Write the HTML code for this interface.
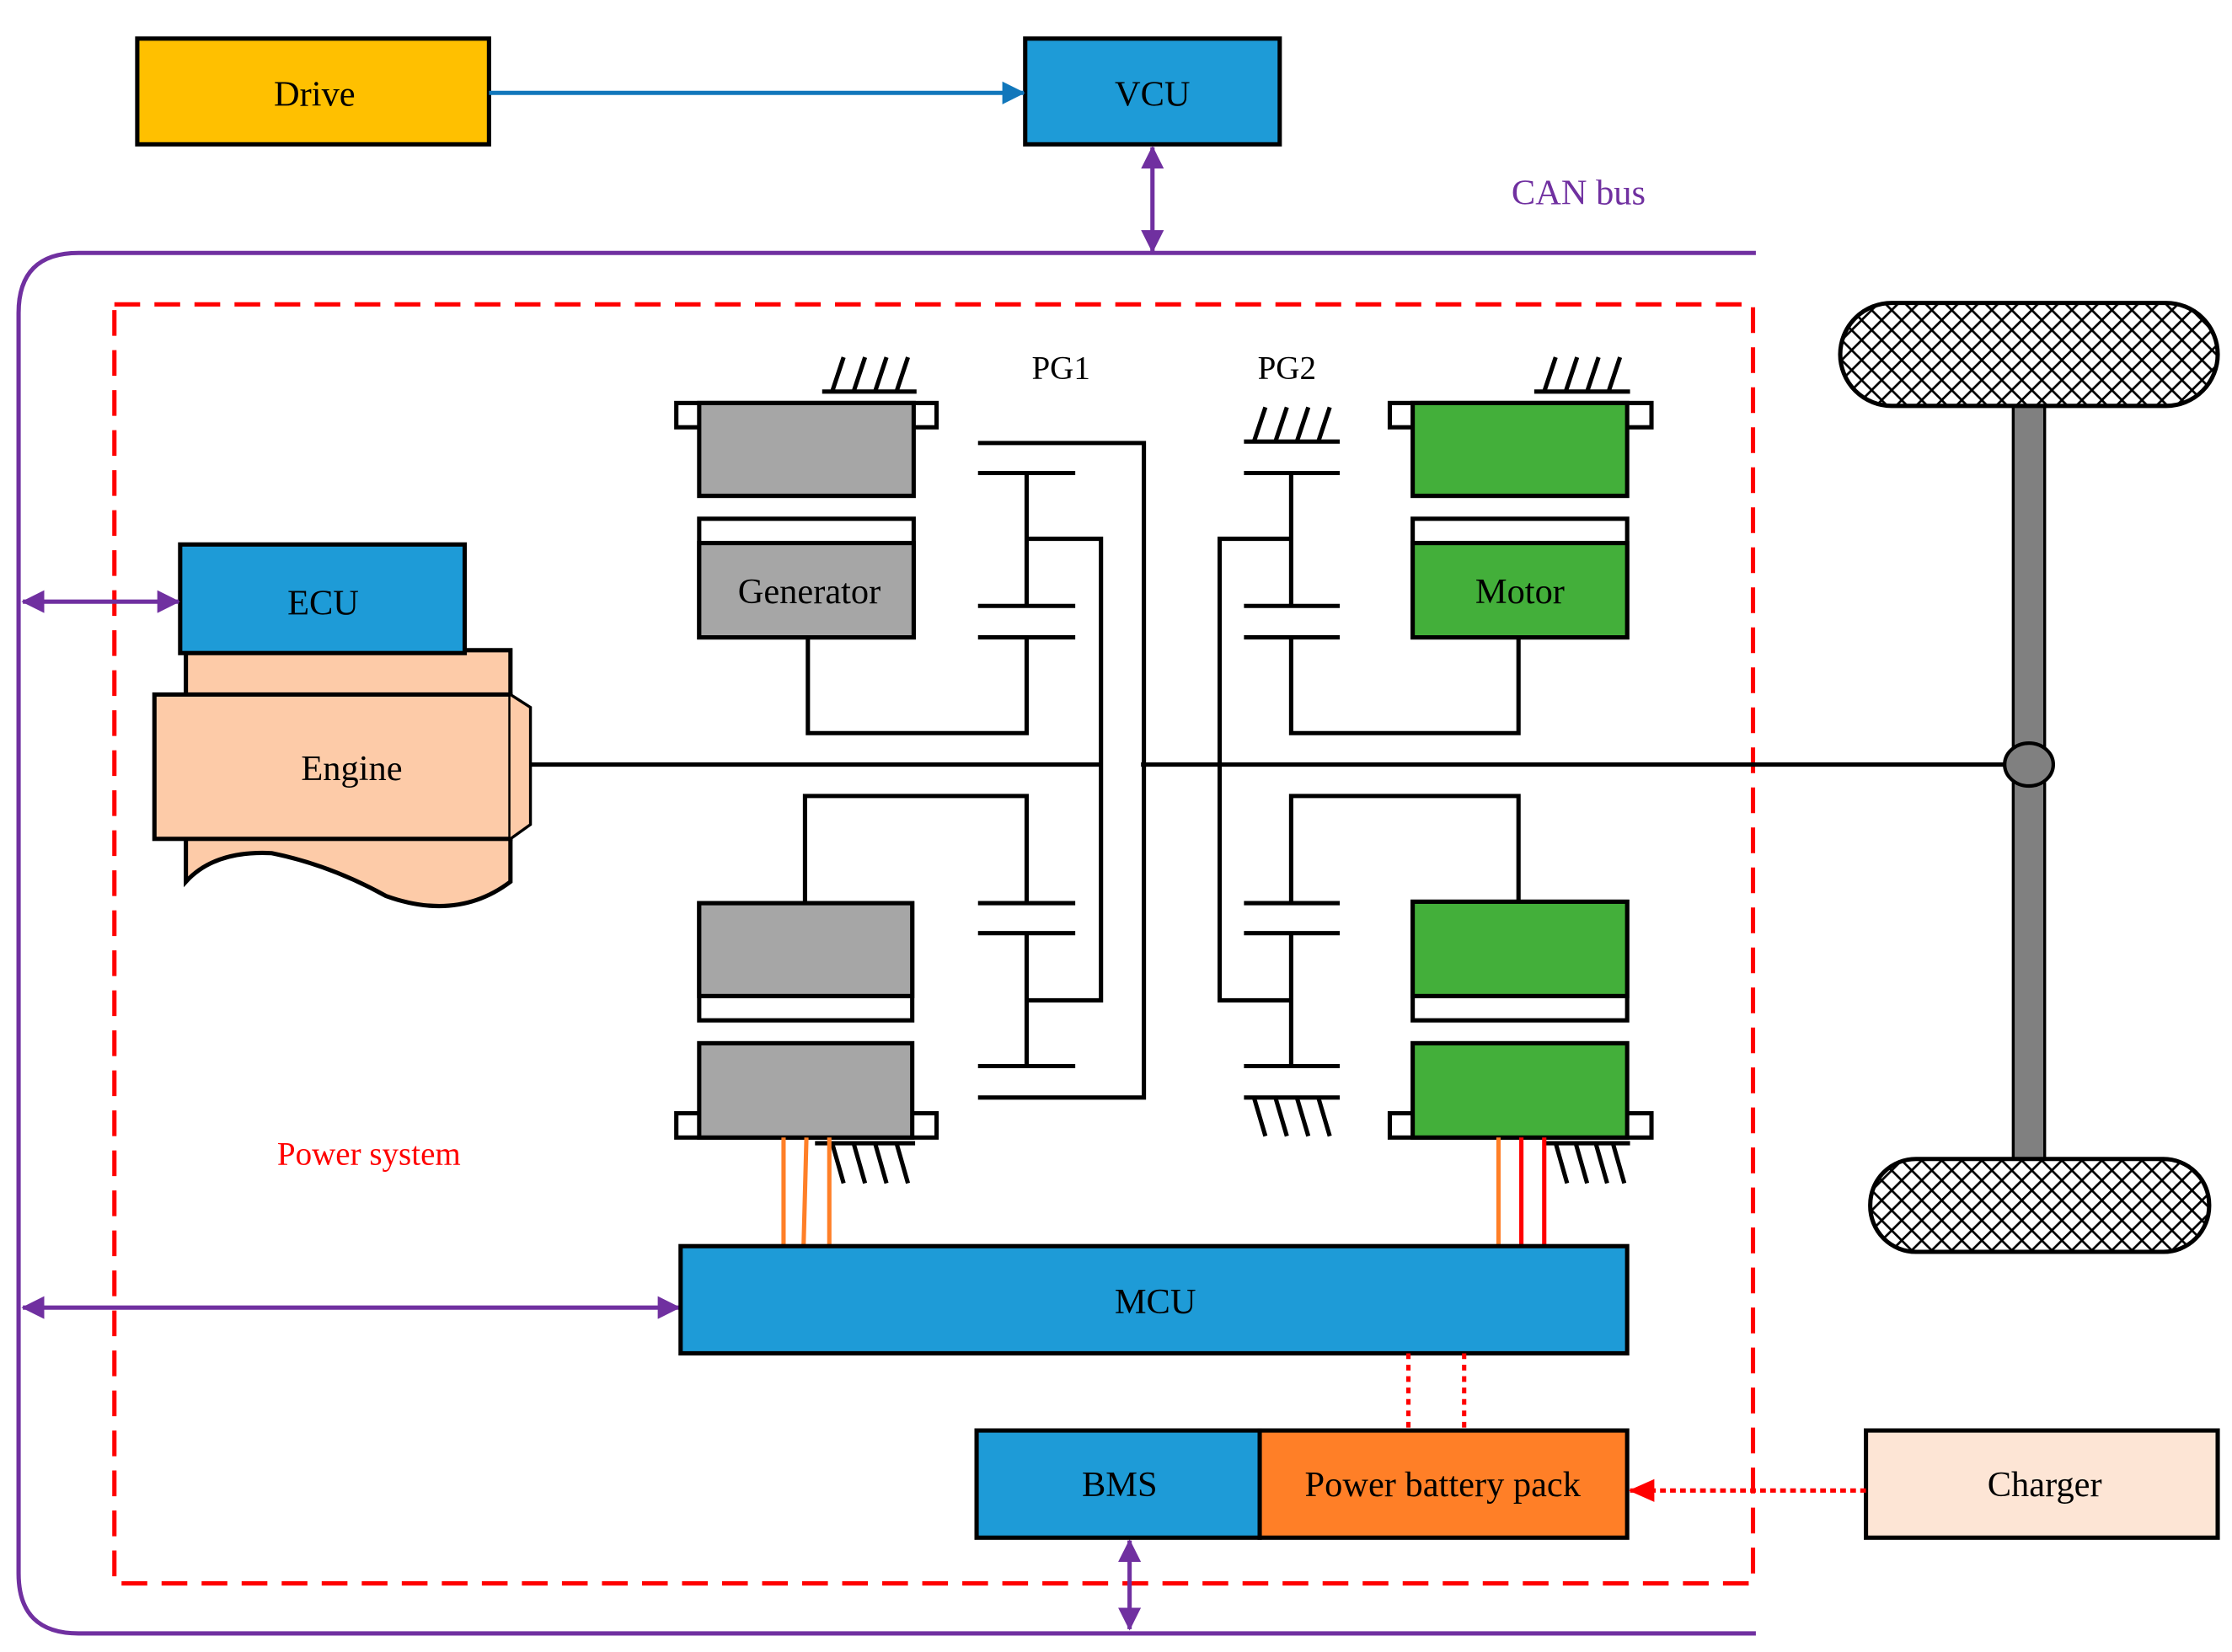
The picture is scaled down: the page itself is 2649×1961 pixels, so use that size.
<!DOCTYPE html>
<html><head><meta charset="utf-8"><style>html,body{margin:0;padding:0;background:#fff}svg{display:block}</style></head><body>
<svg width="2649" height="1961" viewBox="0 0 1561 1156" preserveAspectRatio="none" xmlns="http://www.w3.org/2000/svg" font-family="Liberation Serif, serif">
<defs>
<pattern id="hx" width="14" height="14" patternUnits="userSpaceOnUse"><rect width="14" height="14" fill="#fff"/><path d="M0 0L14 14M14 0L0 14" stroke="#000" stroke-width="1.6"/></pattern>
<marker id="pa" markerWidth="16" markerHeight="16" refX="15" refY="8" orient="auto-start-reverse" markerUnits="userSpaceOnUse"><path d="M0 0L16 8L0 16Z" fill="#7030A0"/></marker>
<marker id="ba" markerWidth="16" markerHeight="16" refX="15" refY="8" orient="auto" markerUnits="userSpaceOnUse"><path d="M0 0L16 8L0 16Z" fill="#1177BB"/></marker>
<marker id="ra" markerWidth="18" markerHeight="16" refX="17" refY="8" orient="auto" markerUnits="userSpaceOnUse"><path d="M0 0L18 8L0 16Z" fill="#f00"/></marker>
</defs>
<g stroke="#000" stroke-width="3">
<rect x="96" y="27" width="246" height="74" fill="#FFC000"/>
<rect x="717" y="27" width="178" height="74" fill="#1E9BD7"/>
</g>
<text x="220" y="74" font-size="25" text-anchor="middle">Drive</text>
<text x="806" y="74" font-size="25" text-anchor="middle">VCU</text>
<line x1="342" y1="65" x2="716" y2="65" stroke="#1177BB" stroke-width="3" marker-end="url(#ba)"/>
<line x1="806" y1="103" x2="806" y2="176" stroke="#7030A0" stroke-width="3" marker-start="url(#pa)" marker-end="url(#pa)"/>
<text x="1104" y="143" font-size="25" fill="#7030A0" text-anchor="middle">CAN  bus</text>
<path d="M1228 177H55Q13 177 13 219V1101Q13 1143 55 1143H1228" fill="none" stroke="#7030A0" stroke-width="3"/>
<rect x="80" y="213" width="1146" height="895" fill="none" stroke="#f00" stroke-width="3" stroke-dasharray="18,10"/>
<text x="258" y="815" font-size="23" fill="#f00" text-anchor="middle">Power system</text>
<rect x="1408" y="284" width="22" height="527" fill="#808080" stroke="#000" stroke-width="2"/>
<rect x="1287" y="212" width="264" height="72" rx="36" fill="url(#hx)" stroke="#000" stroke-width="3"/>
<rect x="1308" y="811" width="237" height="65" rx="32" fill="url(#hx)" stroke="#000" stroke-width="3"/>
<g stroke="#000" stroke-width="3" fill="none">
<line x1="370" y1="535" x2="770" y2="535"/>
<line x1="798" y1="535" x2="1403" y2="535"/>
</g>
<ellipse cx="1419" cy="535" rx="17" ry="15" fill="#808080" stroke="#000" stroke-width="2.5"/>
<path d="M130 455H357V617Q320 645 270 627Q230 605 190 597Q150 595 130 617Z" fill="#FDCBA8" stroke="#000" stroke-width="3"/>
<rect x="108" y="486" width="249" height="101" fill="#FDCBA8" stroke="#000" stroke-width="3"/>
<path d="M357 486L371 495V577L357 587" fill="#FDCBA8" stroke="#000" stroke-width="2"/>
<text x="246" y="546" font-size="25" text-anchor="middle">Engine</text>
<rect x="126" y="381" width="199" height="76" fill="#1E9BD7" stroke="#000" stroke-width="3"/>
<text x="226" y="430" font-size="25" text-anchor="middle">ECU</text>
<line x1="16" y1="421" x2="125" y2="421" stroke="#7030A0" stroke-width="3" marker-start="url(#pa)" marker-end="url(#pa)"/>
<line x1="16" y1="915" x2="475" y2="915" stroke="#7030A0" stroke-width="3" marker-start="url(#pa)" marker-end="url(#pa)"/>
<line x1="790" y1="1078" x2="790" y2="1140" stroke="#7030A0" stroke-width="3" marker-start="url(#pa)" marker-end="url(#pa)"/>
<g stroke="#000" stroke-width="3">
<rect x="473" y="282" width="182" height="17" fill="#fff"/>
<rect x="489" y="282" width="150" height="65" fill="#A6A6A6"/>
<rect x="489" y="363" width="150" height="83" fill="#fff"/>
<rect x="489" y="380" width="150" height="66" fill="#A6A6A6"/>
<rect x="489" y="632" width="149" height="82" fill="#fff"/>
<rect x="489" y="632" width="149" height="65" fill="#A6A6A6"/>
<rect x="473" y="779" width="182" height="17" fill="#fff"/>
<rect x="489" y="730" width="149" height="66" fill="#A6A6A6"/>
<rect x="972" y="282" width="183" height="17" fill="#fff"/>
<rect x="988" y="282" width="150" height="65" fill="#43AF3A"/>
<rect x="988" y="363" width="150" height="83" fill="#fff"/>
<rect x="988" y="380" width="150" height="66" fill="#43AF3A"/>
<rect x="988" y="631" width="150" height="83" fill="#fff"/>
<rect x="988" y="631" width="150" height="66" fill="#43AF3A"/>
<rect x="972" y="779" width="183" height="17" fill="#fff"/>
<rect x="988" y="730" width="150" height="66" fill="#43AF3A"/>
</g>
<text x="566" y="422" font-size="25" text-anchor="middle">Generator</text>
<text x="1063" y="422" font-size="25" text-anchor="middle">Motor</text>
<text x="742" y="265" font-size="23" text-anchor="middle">PG1</text>
<text x="900" y="265" font-size="23" text-anchor="middle">PG2</text>
<g stroke="#000" stroke-width="3" fill="none">
<path d="M684 310H800V768H684"/>
<path d="M684 331H752M684 424H752M684 446H752M684 632H752M684 653H752M684 746H752"/>
<path d="M718 331V424M718 446V513H565V446M718 377H770V700H718M718 653V746M718 632V557H563V632"/>
<path d="M870 309H937M870 331H937M870 424H937M870 446H937M870 632H937M870 653H937M870 746H937M870 768H937"/>
<path d="M903 331V424M903 446V513H1062V446M903 377H853V700H903M903 653V746M903 632V557H1062V631"/>
<path d="M575 274H641M582 274L590 250M597 274L605 250M612 274L620 250M627 274L635 250"/>
<path d="M1073 274H1140M1080 274L1088 250M1095 274L1103 250M1110 274L1118 250M1125 274L1133 250"/>
<path d="M877 309L885 285M892 309L900 285M907 309L915 285M922 309L930 285"/>
<path d="M877 768L885 795M892 768L900 795M907 768L915 795M922 768L930 795"/>
<path d="M570 800H640M582 800L590 828M597 800L605 828M612 800L620 828M627 800L635 828"/>
<path d="M1080 800H1140M1088 800L1096 828M1102 800L1110 828M1116 800L1124 828M1128 800L1136 828"/>
</g>
<g stroke-width="3" fill="none">
<path d="M548 796V872M564 796L562 872M580 796V872" stroke="#FF7F27"/>
<path d="M1048 796V872" stroke="#FF7F27"/>
<path d="M1064 796V872M1080 796V872" stroke="#f00"/>
</g>
<rect x="476" y="872" width="662" height="75" fill="#1E9BD7" stroke="#000" stroke-width="3"/>
<text x="808" y="919" font-size="25" text-anchor="middle">MCU</text>
<path d="M985 947V1001M1024 947V1001" stroke="#f00" stroke-width="3" stroke-dasharray="4,4"/>
<rect x="683" y="1001" width="198" height="75" fill="#1E9BD7" stroke="#000" stroke-width="3"/>
<rect x="881" y="1001" width="257" height="75" fill="#FF7F27" stroke="#000" stroke-width="3"/>
<text x="783" y="1047" font-size="25" text-anchor="middle">BMS</text>
<text x="1009" y="1047" font-size="25" text-anchor="middle">Power battery pack</text>
<rect x="1305" y="1001" width="246" height="75" fill="#FDE5D5" stroke="#000" stroke-width="3"/>
<text x="1430" y="1047" font-size="25" text-anchor="middle">Charger</text>
<line x1="1305" y1="1043" x2="1140" y2="1043" stroke="#f00" stroke-width="3" stroke-dasharray="4,3" marker-end="url(#ra)"/>
</svg>
</body></html>
